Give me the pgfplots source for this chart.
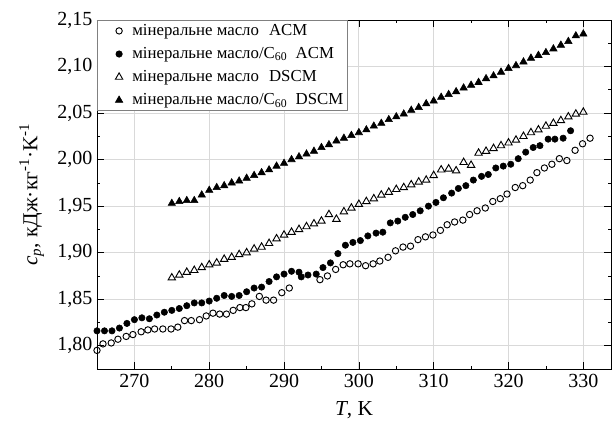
\documentclass[border=0pt]{standalone}
\usepackage{pgfplots}
\pgfplotsset{compat=1.18}
\usepackage{fontspec}
\setmainfont{Liberation Serif}

\begin{document}
\begin{tikzpicture}
\begin{axis}[
  scale only axis,
  width=385.5pt, height=261.75pt,
  xmin=265, xmax=333.7, ymin=1.775, ymax=2.15,
  xtick={270,280,290,300,310,320,330},
  ytick={1.80,1.85,1.90,1.95,2.00,2.05,2.10,2.15},
  minor x tick num=1, minor y tick num=1,
  grid=major, major grid style={gray!30, line width=0.7pt},
  tick style={black, line width=0.5pt},
  major tick length=5pt, minor tick length=2.5pt,
  axis line style={line width=0.6pt},
  tick label style={font=\fontsize{15}{18}\selectfont},
  yticklabel style={/pgf/number format/.cd, use comma, fixed, fixed zerofill, precision=2, assume math mode=true},
  xticklabel style={/pgf/number format/.cd, fixed, precision=0, assume math mode=true},
  xlabel={\textit{T}, K},
  ylabel={\textit{c}\textsubscript{\textit{p}}, кДж·кг\textsuperscript{-1}·K\textsuperscript{-1}},
  label style={font=\fontsize{16}{18}\selectfont},
  xlabel style={yshift=-4pt},
  ylabel style={yshift=3pt},
  legend style={at={(0,1)}, anchor=north west, font=\fontsize{12.6}{15}\selectfont, draw=gray, line width=0.5pt, inner sep=1pt, row sep=3.5pt},
  legend image code/.code={\path (0cm,0cm) (0.8cm,0cm); \draw[#1] plot coordinates {(0.53cm,0cm)};},
  legend cell align=left,
  clip=false,
]
\addplot[only marks, mark=o, mark size=2.4pt, mark options={black, line width=0.7pt}] coordinates {
(265,1.795) (265.8,1.802) (266.9,1.803) (267.8,1.807) (268.9,1.810) (269.8,1.812)
(270.9,1.815) (271.8,1.817) (272.7,1.818) (273.8,1.818) (274.9,1.818) (275.8,1.820)
(276.7,1.827) (277.6,1.827) (278.7,1.828) (279.6,1.832) (280.5,1.835) (281.4,1.834)
(282.3,1.834) (283.2,1.838) (284.1,1.841) (284.9,1.841) (285.7,1.845) (286.7,1.853)
(287.6,1.849) (288.6,1.849) (289.7,1.857) (290.7,1.862) (294.8,1.871) (295.8,1.875)
(296.9,1.882) (297.9,1.887) (298.8,1.888) (299.9,1.888) (300.9,1.886) (301.9,1.888)
(302.8,1.891) (303.9,1.895) (304.9,1.902) (305.9,1.906) (306.9,1.907) (307.9,1.914)
(308.9,1.917) (309.9,1.919) (310.9,1.924) (311.8,1.930) (312.8,1.933) (313.9,1.935)
(314.8,1.941) (315.8,1.945) (316.9,1.948) (317.9,1.955) (318.9,1.958) (319.8,1.963)
(320.9,1.970) (321.9,1.972) (322.9,1.978) (323.8,1.986) (324.8,1.991) (325.8,1.995)
(326.8,2.001) (327.8,1.999) (328.9,2.010) (329.9,2.017) (330.9,2.023)
};
\addlegendentry{мінеральне масло\hspace{0.6em}ACM}
\addplot[only marks, mark=*, mark size=2.4pt, mark options={black, fill=black}] coordinates {
(265,1.816) (266,1.816) (267,1.816) (268,1.819) (269,1.824) (270,1.828) (271,1.830)
(272,1.829) (273,1.833) (274,1.836) (275,1.838) (276,1.840) (277,1.843) (278,1.846)
(279,1.846) (280,1.848) (281,1.851) (282,1.854) (283,1.853) (284,1.854) (285,1.858)
(286,1.862) (287,1.863) (288,1.869) (289,1.874) (290,1.877) (291,1.880) (292,1.879)
(292.3,1.874) (293.2,1.876) (294.3,1.877) (295.2,1.884) (296.2,1.889) (297.2,1.899)
(298.2,1.908) (299.2,1.911) (300.2,1.913) (301.2,1.918) (302.3,1.921) (303.2,1.922)
(304.2,1.932) (305.2,1.934) (306.2,1.938) (307.2,1.941) (308.2,1.945) (309.3,1.950)
(310.3,1.954) (311.3,1.959) (312.4,1.964) (313.3,1.969) (314.3,1.972) (315.3,1.978)
(316.4,1.982) (317.3,1.984) (318.3,1.991) (319.3,1.993) (320.3,1.995) (321.3,2.001)
(322.3,2.008) (323.3,2.013) (324.2,2.015) (325.3,2.022) (326.2,2.022) (327.3,2.023)
(328.3,2.031)
};
\addlegendentry{мінеральне масло/C\textsubscript{60}\hspace{0.5em}ACM}
\addplot[only marks, mark=triangle, mark size=3.2pt, mark options={black, line width=0.7pt}] coordinates {
(275,1.873) (276,1.876) (277,1.879) (278,1.881) (279,1.884) (280,1.887) (281,1.889)
(282,1.893) (283,1.895) (284,1.898) (285,1.900) (286,1.904) (287,1.906) (288,1.910)
(289,1.915) (290,1.919) (291,1.922) (292,1.925) (293,1.928) (294,1.931) (295,1.934)
(296,1.941) (297,1.936) (298,1.944) (299,1.948) (300,1.952) (301,1.955) (302,1.958)
(303,1.962) (304,1.965) (305,1.968) (306,1.970) (307,1.973) (308,1.976) (309,1.978)
(310,1.983) (311,1.989) (312,1.990) (313,1.988) (314,1.997) (315,1.994) (316,2.007)
(317,2.009) (318,2.012) (319,2.015) (320,2.018) (321,2.021) (322,2.025) (323,2.029)
(324,2.032) (325,2.036) (326,2.039) (327,2.042) (328,2.046) (329,2.049) (330,2.051)
};
\addlegendentry{мінеральне масло\hspace{0.6em}DSCM}
\addplot[only marks, mark=triangle*, mark size=3.2pt, mark options={black, fill=black}] coordinates {
(275,1.953) (276,1.955) (277,1.956) (278,1.956) (279,1.962) (280,1.967) (281,1.970)
(282,1.972) (283,1.975) (284,1.977) (285,1.980) (286,1.983) (287,1.986) (288,1.989)
(289,1.993) (290,1.996) (291,2.000) (292,2.003) (293,2.006) (294,2.009) (295,2.013)
(296,2.016) (297,2.020) (298,2.023) (299,2.026) (300,2.029) (301,2.032) (302,2.036)
(303,2.039) (304,2.043) (305,2.046) (306,2.049) (307,2.053) (308,2.056) (309,2.060)
(310,2.063) (311,2.067) (312,2.070) (313,2.073) (314,2.077) (315,2.080) (316,2.083)
(317,2.087) (318,2.090) (319,2.094) (320,2.098) (321,2.101) (322,2.105) (323,2.109)
(324,2.112) (325,2.115) (326,2.119) (327,2.123) (328,2.127) (329,2.133) (330,2.135)
};
\addlegendentry{мінеральне масло/C\textsubscript{60}\hspace{0.5em}DSCM}
\end{axis}
\path (current axis.south west) ++(-72.75pt,-42.75pt) coordinate (bbA);
\path (current axis.north east) ++(0.75pt,15pt) coordinate (bbB);
\pgfresetboundingbox
\path[use as bounding box] (bbA) rectangle (bbB);
\end{tikzpicture}
\end{document}
